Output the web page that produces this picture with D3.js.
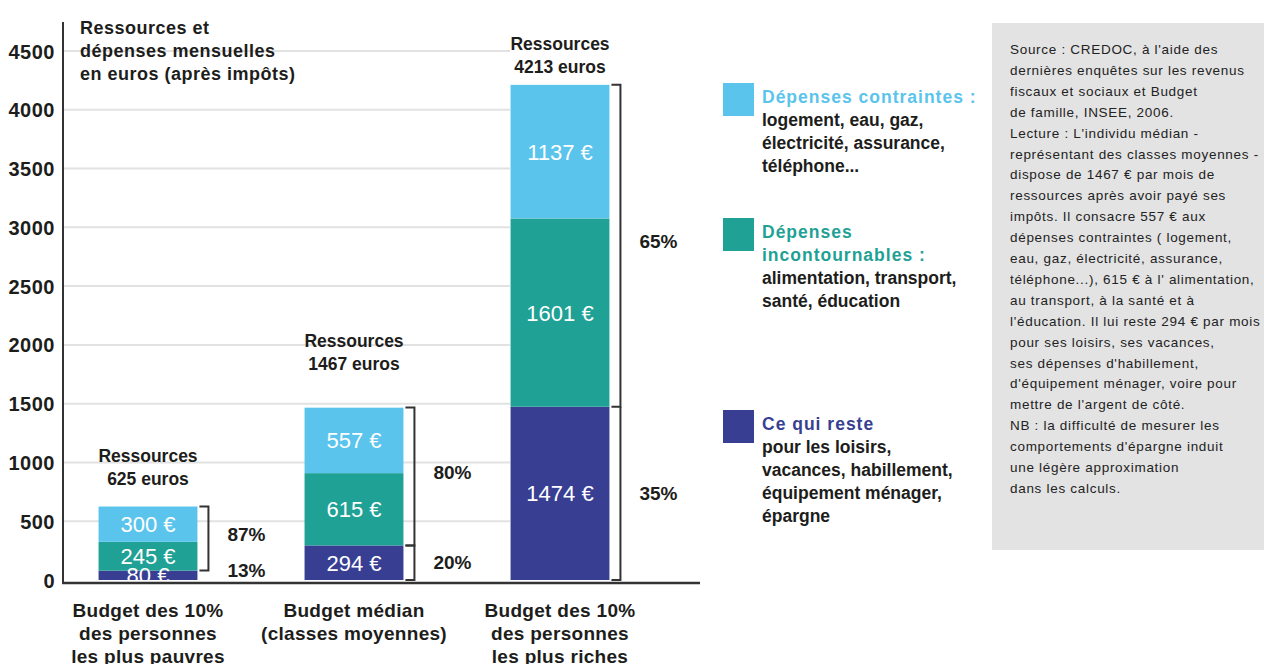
<!DOCTYPE html>
<html>
<head>
<meta charset="utf-8">
<script src="https://cdn.jsdelivr.net/npm/d3@7"></script>
<style>
  body { margin: 0; background: #fff; }
  svg text { font-family: "Liberation Sans", Arial, sans-serif; }
  .heavy { font-weight: bold; fill: #1d1d1b; }
  .val { fill: #fff; font-size: 22px; text-anchor: middle; }
  .note { font-size: 13.5px; fill: #222; letter-spacing: 0.7px; }
</style>
</head>
<body>
<div id="container"></div>
<script>
// data
var categories = ["pauvres", "median", "riches"];
var categoryLabels = [
    ["Budget des 10%", "des personnes", "les plus pauvres"],
    ["Budget médian", "(classes moyennes)"],
    ["Budget des 10%", "des personnes", "les plus riches"]
];
var reste = [80, 294, 1474];
var incontournables = [245, 615, 1601];
var contraintes = [300, 557, 1137];
var ressources = [625, 1467, 4213];
var pctHaut = ["87%", "80%", "65%"];
var pctBas = ["13%", "20%", "35%"];
var yTicks = [0, 500, 1000, 1500, 2000, 2500, 3000, 3500, 4000, 4500];

var seriesKeys = ["reste", "incontournables", "contraintes"];
var colors = {reste: "#383f93", incontournables: "#1fa195", contraintes: "#5bc4ec"};

var legendItems = [
    {key: "contraintes", head: ["Dépenses contraintes :"], body: ["logement, eau, gaz,", "électricité, assurance,", "téléphone..."]},
    {key: "incontournables", head: ["Dépenses", "incontournables :"], body: ["alimentation, transport,", "santé, éducation"]},
    {key: "reste", head: ["Ce qui reste"], body: ["pour les loisirs,", "vacances, habillement,", "équipement ménager,", "épargne"]}
];

var noteLines = [
    "Source : CREDOC, à l'aide des",
    "dernières enquêtes sur les revenus",
    "fiscaux et sociaux et Budget",
    "de famille, INSEE, 2006.",
    "Lecture : L'individu médian -",
    "représentant des classes moyennes -",
    "dispose de 1467 € par mois de",
    "ressources après avoir payé ses",
    "impôts. Il consacre 557 € aux",
    "dépenses contraintes ( logement,",
    "eau, gaz, électricité, assurance,",
    "téléphone...), 615 € à l' alimentation,",
    "au transport, à la santé et à",
    "l'éducation. Il lui reste 294 € par mois",
    "pour ses loisirs, ses vacances,",
    "ses dépenses d'habillement,",
    "d'équipement ménager, voire pour",
    "mettre de l'argent de côté.",
    "NB : la difficulté de mesurer les",
    "comportements d'épargne induit",
    "une légère approximation",
    "dans les calculs."
];

var width = 1264, height = 664;
var margin = {left: 63, top: 22};
var baseY = 580;

var svg = d3.select("#container").append("svg")
    .attr("width", width)
    .attr("height", height);

var xScale = d3.scaleBand()
    .domain(categories)
    .range([45, 663])
    .paddingInner(0.52)
    .paddingOuter(0.26);

var yScale = d3.scaleLinear()
    .domain([0, 4500])
    .range([baseY, 51]);

// gridlines
svg.append("g")
    .selectAll("line")
    .data(yTicks.filter(d => d > 0))
    .enter()
    .append("line")
    .attr("x1", margin.left)
    .attr("x2", 510)
    .attr("y1", d => yScale(d))
    .attr("y2", d => yScale(d))
    .attr("stroke", "#e2e2e2")
    .attr("stroke-width", 2);

// y axis
var yAxis = d3.axisLeft(yScale)
    .tickValues(yTicks)
    .tickFormat(d3.format("d"))
    .tickSize(0)
    .tickPadding(8);
var gy = svg.append("g")
    .attr("transform", "translate(" + margin.left + ",0)")
    .call(yAxis);
gy.select(".domain").remove();
gy.selectAll("text")
    .attr("class", "heavy")
    .style("font-size", "20px")
    .style("letter-spacing", "0.5px")
    .style("font-family", "Liberation Sans, Arial, sans-serif")
    .attr("dy", "0.35em");

svg.append("line")
    .attr("x1", margin.left).attr("x2", margin.left)
    .attr("y1", margin.top).attr("y2", baseY + 3)
    .attr("stroke", "#333").attr("stroke-width", 2);

// stacked bars
var table = categories.map((c, i) => ({
    cat: c, reste: reste[i], incontournables: incontournables[i], contraintes: contraintes[i]
}));
var stacked = d3.stack().keys(seriesKeys)(table);

svg.append("g")
    .selectAll("g")
    .data(stacked)
    .enter()
    .append("g")
    .attr("fill", d => colors[d.key])
    .selectAll("rect")
    .data(d => d)
    .enter()
    .append("rect")
    .attr("x", d => xScale(d.data.cat))
    .attr("y", d => yScale(d[1]))
    .attr("width", xScale.bandwidth())
    .attr("height", d => yScale(d[0]) - yScale(d[1]));

// values in the bars
stacked.forEach(function (s) {
    svg.append("g")
        .selectAll("text")
        .data(s)
        .enter()
        .append("text")
        .attr("class", "val")
        .attr("x", d => xScale(d.data.cat) + xScale.bandwidth() / 2)
        .attr("y", d => (yScale(d[0]) + yScale(d[1])) / 2)
        .attr("dy", "0.36em")
        .text(d => d.data[s.key] + " €");
});

// x axis line
svg.append("line")
    .attr("x1", margin.left - 1).attr("x2", 700)
    .attr("y1", baseY + 3).attr("y2", baseY + 3)
    .attr("stroke", "#333").attr("stroke-width", 2.5);

// category labels
categories.forEach(function (c, i) {
    var t = svg.append("text")
        .attr("class", "heavy")
        .attr("text-anchor", "middle")
        .style("font-size", "19px")
        .style("letter-spacing", "0.3px");
    categoryLabels[i].forEach(function (line, j) {
        t.append("tspan")
            .attr("x", xScale(c) + xScale.bandwidth() / 2)
            .attr("y", 617 + j * 23)
            .text(line);
    });
});

// "Ressources" above bars
var resGap = [22, 38, 12];
categories.forEach(function (c, i) {
    var top = yScale(ressources[i]);
    var t = svg.append("text")
        .attr("class", "heavy")
        .attr("text-anchor", "middle")
        .style("font-size", "17.5px");
    t.append("tspan")
        .attr("x", xScale(c) + xScale.bandwidth() / 2)
        .attr("y", top - resGap[i] - 23)
        .text("Ressources");
    t.append("tspan")
        .attr("x", xScale(c) + xScale.bandwidth() / 2)
        .attr("y", top - resGap[i])
        .text(ressources[i] + " euros");
});

// brackets
function bracket(x, y0, y1, tickTop, tickBottom) {
    var p = d3.path();
    if (tickTop) { p.moveTo(x - 9, y1); p.lineTo(x, y1); } else { p.moveTo(x, y1); }
    p.lineTo(x, y0);
    if (tickBottom) p.lineTo(x - 9, y0);
    svg.append("path")
        .attr("d", p.toString())
        .attr("fill", "none")
        .attr("stroke", "#333")
        .attr("stroke-width", 2);
}

categories.forEach(function (c, i) {
    var bx = xScale(c) + xScale.bandwidth() + 11;
    var yTop = yScale(ressources[i]);
    var yMid = yScale(reste[i]);
    bracket(bx, yMid, yTop, true, true);
    if (i > 0) bracket(bx, baseY, yMid, i === 1, true);

    svg.append("text")
        .attr("class", "heavy")
        .attr("text-anchor", "middle")
        .style("font-size", "19px")
        .attr("x", bx + 38)
        .attr("y", (yTop + yMid) / 2 - 4)
        .attr("dy", "0.35em")
        .text(pctHaut[i]);
    svg.append("text")
        .attr("class", "heavy")
        .attr("text-anchor", "middle")
        .style("font-size", "19px")
        .attr("x", bx + 38)
        .attr("y", Math.min((baseY + yMid) / 2, baseY - 10))
        .attr("dy", "0.35em")
        .text(pctBas[i]);
});

// title
var title = svg.append("text")
    .attr("class", "heavy")
    .style("font-size", "18px")
    .style("letter-spacing", "0.5px");
["Ressources et", "dépenses mensuelles", "en euros (après impôts)"].forEach(function (l, j) {
    title.append("tspan").attr("x", 80).attr("y", 34 + j * 23).text(l);
});

// legend
var legendTop = [83, 218, 410];
legendItems.forEach(function (item, i) {
    var y0 = legendTop[i];
    svg.append("rect")
        .attr("x", 723).attr("y", y0)
        .attr("width", 31).attr("height", 33)
        .attr("fill", colors[item.key]);
    var lines = item.head.map(l => ({t: l, head: true}))
        .concat(item.body.map(l => ({t: l, head: false})));
    svg.append("g")
        .selectAll("text")
        .data(lines)
        .enter()
        .append("text")
        .attr("class", "heavy")
        .style("font-size", "17.5px")
        .style("letter-spacing", d => d.head ? "1px" : "0px")
        .style("fill", d => d.head ? colors[item.key] : "#1d1d1b")
        .attr("x", 762)
        .attr("y", (d, j) => y0 + 20 + j * 23)
        .text(d => d.t);
});

// note box
svg.append("rect")
    .attr("x", 992).attr("y", 23)
    .attr("width", 272).attr("height", 527)
    .attr("fill", "#e3e3e3");

svg.append("g")
    .selectAll("text")
    .data(noteLines)
    .enter()
    .append("text")
    .attr("class", "note")
    .attr("x", 1010)
    .attr("y", (d, i) => 54 + i * 20.9)
    .text(d => d);
</script>
</body>
</html>
